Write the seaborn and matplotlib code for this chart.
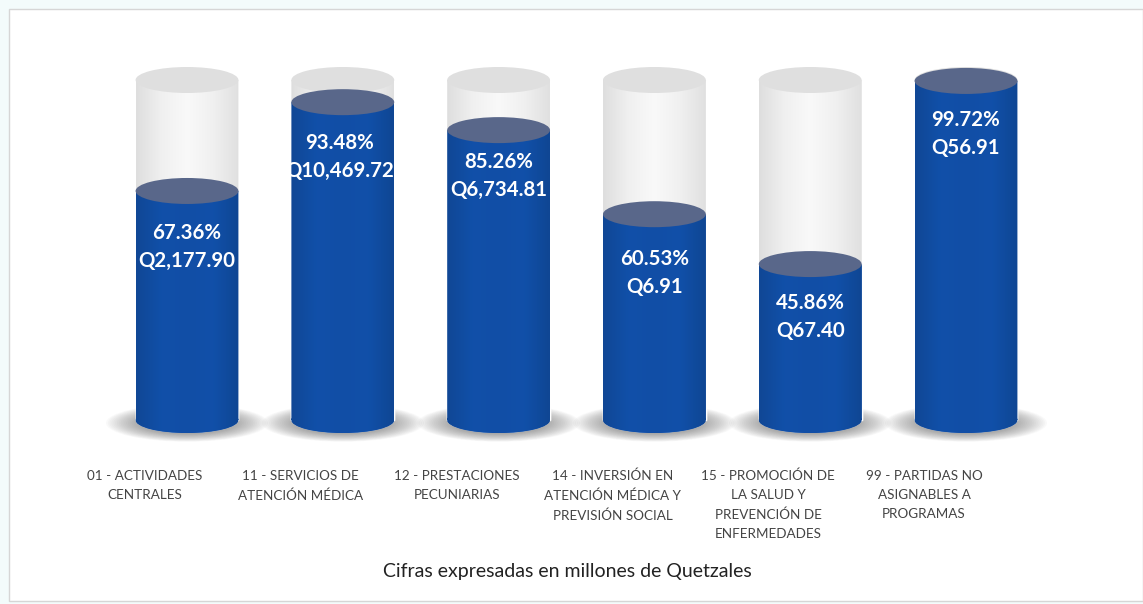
import matplotlib
matplotlib.use("Agg")
import matplotlib.pyplot as plt
import numpy as np
import pandas as pd
import seaborn as sns
from matplotlib.colors import LinearSegmentedColormap
from matplotlib.patches import Ellipse, PathPatch, Rectangle
from matplotlib.path import Path

programas = [
    "01 - ACTIVIDADES\nCENTRALES",
    "11 - SERVICIOS DE\nATENCIÓN MÉDICA",
    "12 - PRESTACIONES\nPECUNIARIAS",
    "14 - INVERSIÓN EN\nATENCIÓN MÉDICA Y\nPREVISIÓN SOCIAL",
    "15 - PROMOCIÓN DE\nLA SALUD Y\nPREVENCIÓN DE\nENFERMEDADES",
    "99 - PARTIDAS NO\nASIGNABLES A\nPROGRAMAS",
]
porcentaje = [67.36, 93.48, 85.26, 60.53, 45.86, 99.72]
total = [100, 100, 100, 100, 100, 100]
montos = ["Q2,177.90", "Q10,469.72", "Q6,734.81", "Q6.91", "Q67.40", "Q56.91"]
nota = "Cifras expresadas en millones de Quetzales"

# layout, in pixels of the 1143x604 picture
etiqueta_y = [247, 157, 176, 273, 317, 134]
etiqueta_x = [0, -3, 0, 0, 0, 0]

AZUL = "#124ea6"
W, H = 1143, 604
X0, DX = 187, 155.8
Y0, ESCALA = 420, 3.4
ANCHO = 0.66
ELIPSE = 26 / ESCALA


def py(p):
    return (Y0 - p) / ESCALA


def px(p):
    return (p - X0) / DX


def degradado(ax, rect, elipse, colores, zorder):
    # horizontal shading of a cylinder, clipped to body + rounded base
    x, w = rect.get_x(), rect.get_width()
    y0, y1 = sorted((rect.get_y(), rect.get_y() + rect.get_height()))
    cmap = LinearSegmentedColormap.from_list("c", colores)
    im = ax.imshow(
        np.linspace(0, 1, 256).reshape(1, -1), cmap=cmap, aspect="auto",
        extent=(x, x + w, y0 - ELIPSE / 2, y1), zorder=zorder, interpolation="bilinear",
    )
    cuerpo = Path.make_compound_path(
        rect.get_path().transformed(rect.get_patch_transform()),
        elipse.get_path().transformed(elipse.get_patch_transform()),
    )
    im.set_clip_path(PathPatch(cuerpo, transform=ax.transData))


sns.set_style("white")
plt.rcParams["font.family"] = ["Lato", "DejaVu Sans"]

fig = plt.figure(figsize=(W / 100, H / 100), dpi=100, facecolor="#f3fbfb")
ax = fig.add_axes([0, 0, 1, 1])
ax.patch.set_alpha(0)

df = pd.DataFrame({"programa": programas, "porcentaje": porcentaje, "total": total})
sns.barplot(data=df, x="programa", y="total", color="#eeeeee", saturation=1, width=ANCHO, ax=ax, zorder=3)
sns.barplot(data=df, x="programa", y="porcentaje", color=AZUL, saturation=1, width=ANCHO, ax=ax, zorder=5)
n = len(programas)
fondo, barras = ax.patches[:n], ax.patches[n:]

ax.add_patch(Rectangle((px(9), py(601)), px(1143) - px(9), py(9) - py(601),
                       fc="white", ec="#d6d6d6", lw=1, zorder=0))

for i, (g, b) in enumerate(zip(fondo, barras)):
    cx = b.get_x() + ANCHO / 2
    arriba = b.get_height()

    # blurred floor shadow
    for f in np.linspace(1.04, 0.5, 24):
        ax.add_patch(Ellipse((cx, py(423)), 1.0 * f, 36 / ESCALA * f, fc="#555555", ec="none", alpha=0.032, zorder=1))

    # ghost cylinder
    base_g = Ellipse((cx, 0), ANCHO, ELIPSE, fc="#eeeeee", ec="none", zorder=2)
    ax.add_patch(base_g)
    degradado(ax, g, base_g, ["#dedede", "#f0f0f0", "#f9f9f9", "#f0f0f0", "#e0e0e0"], 3.5)
    ax.add_patch(Ellipse((cx, g.get_height()), ANCHO, ELIPSE, fc="#dfdfdf", ec="none", zorder=4))

    # blue cylinder
    base_b = Ellipse((cx, 0), ANCHO, ELIPSE, fc=AZUL, ec="none", zorder=4.5)
    ax.add_patch(base_b)
    degradado(ax, b, base_b, ["#104795", "#1150a9", AZUL, "#1150a9", "#0f4693"], 5.5)
    ax.add_patch(Ellipse((cx, arriba), ANCHO, ELIPSE, fc="#59678a", ec="none", zorder=6))

    ax.text(cx + etiqueta_x[i] / DX, py(etiqueta_y[i]), f"{porcentaje[i]:.2f}%\n{montos[i]}",
            color="white", fontsize=14.7, fontweight="bold", ha="center", va="center",
            linespacing=1.5, zorder=7)
    ax.text(i - 42 / DX, py(470), programas[i], color="#444444", fontsize=9.7, ha="center", va="top",
            linespacing=1.68, zorder=7)

ax.text(px(567), py(571), nota, color="#222222", fontsize=14, ha="center", va="center", zorder=7)

ax.set_xlim(px(0), px(W))
ax.set_ylim(py(H), py(0))
ax.set_xlabel("")
ax.set_ylabel("")
ax.set_xticks([])
ax.set_yticks([])
sns.despine(ax=ax, left=True, bottom=True)

fig.savefig("out.png", dpi=100, facecolor=fig.get_facecolor())
